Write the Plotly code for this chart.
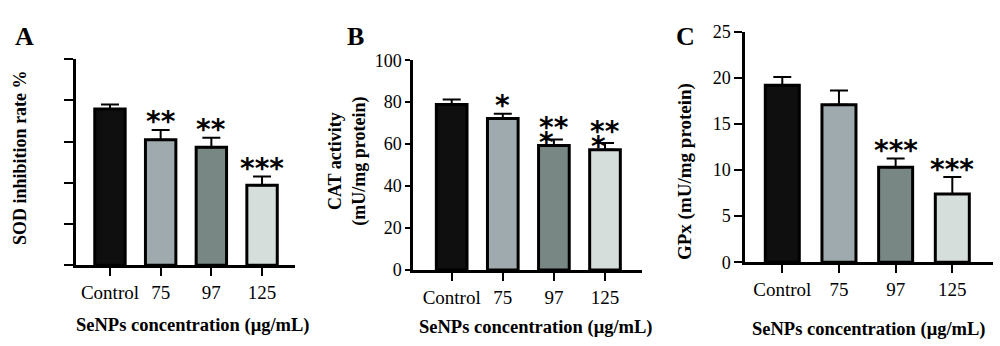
import plotly.graph_objects as go

categories = ["Control", "75", "97", "125"]
bar_colors = ["#0f0f0f", "#9eaaad", "#788784", "#d6dedc"]

sod_values = [75.8, 60.9, 57.2, 38.8]
sod_errors = [2.2, 4.7, 4.6, 4.3]
sod_stars = ["", "**", "**", "***"]

cat_values = [78.9, 72.2, 59.4, 57.3]
cat_errors = [2.4, 2.3, 2.8, 3.2]
cat_stars = ["", "*", "***", "***"]

gpx_values = [19.2, 17.1, 10.3, 7.4]
gpx_errors = [0.9, 1.55, 0.95, 1.85]
gpx_stars = ["", "", "***", "***"]

SERIF = "Liberation Serif"
STARFONT = "DejaVu Sans"
STARSIZE = 28

fig = go.Figure()

panels = [
    dict(vals=sod_values, errs=sod_errors, stars=sod_stars, xa="x", ya="y"),
    dict(vals=cat_values, errs=cat_errors, stars=cat_stars, xa="x2", ya="y2"),
    dict(vals=gpx_values, errs=gpx_errors, stars=gpx_stars, xa="x3", ya="y3"),
]

for p in panels:
    fig.add_trace(go.Bar(
        x=categories, y=p["vals"], xaxis=p["xa"], yaxis=p["ya"],
        width=0.6,
        marker=dict(color=bar_colors, line=dict(color="black", width=3)),
        error_y=dict(type="data", symmetric=False, array=p["errs"],
                     arrayminus=[0] * len(p["errs"]),
                     color="black", thickness=2, width=9),
        showlegend=False, hoverinfo="skip",
    ))

annotations = []
for p in panels:
    for i, (v, e, s) in enumerate(zip(p["vals"], p["errs"], p["stars"])):
        if not s:
            continue
        top = v + e
        star_font = dict(family=STARFONT, size=STARSIZE, color="black")
        if p["xa"] == "x2" and len(s) == 3:
            # "***" wrapped onto two lines in the narrow column
            annotations.append(dict(x=i, y=top, xref=p["xa"], yref=p["ya"], text="<b>**</b>",
                                    showarrow=False, yanchor="middle", yshift=12,
                                    font=star_font))
            annotations.append(dict(x=i, y=top, xref=p["xa"], yref=p["ya"], text="<b>*</b>",
                                    showarrow=False, yanchor="middle", yshift=-3, xshift=-7,
                                    font=star_font))
        else:
            annotations.append(dict(x=i, y=top, xref=p["xa"], yref=p["ya"], text=f"<b>{s}</b>",
                                    showarrow=False, yanchor="middle", yshift=8,
                                    font=star_font))

def paper_x(px):
    return px / 1000.0

def paper_y(py):
    return 1 - py / 346.0

# panel letters
for letter, px, py in [("A", 24, 28), ("B", 355, 28), ("C", 685, 28)]:
    annotations.append(dict(x=paper_x(px), y=paper_y(py), xref="paper", yref="paper",
                            text=f"<b>{letter}</b>", showarrow=False,
                            xanchor="center", yanchor="middle",
                            font=dict(family=SERIF, size=26, color="black")))

# x titles
for px, py in [(192, 335), (535, 337), (868, 339)]:
    annotations.append(dict(x=paper_x(px), y=paper_y(py), xref="paper", yref="paper",
                            text="<b>SeNPs concentration (μg/mL)</b>", showarrow=False,
                            xanchor="center", yanchor="middle",
                            font=dict(family=SERIF, size=18.5, color="black")))

# y titles
annotations.append(dict(x=paper_x(20), y=paper_y(157), xref="paper", yref="paper",
                        text="<b>SOD inhibition rate %</b>", showarrow=False, textangle=-90,
                        xanchor="center", yanchor="middle",
                        font=dict(family=SERIF, size=18, color="black")))
annotations.append(dict(x=paper_x(347), y=paper_y(161), xref="paper", yref="paper",
                        text="<b>CAT activity<br>(mU/mg protein)</b>", showarrow=False, textangle=-90,
                        xanchor="center", yanchor="middle",
                        font=dict(family=SERIF, size=18, color="black")))
annotations.append(dict(x=paper_x(685), y=paper_y(172), xref="paper", yref="paper",
                        text="<b>GPx (mU/mg protein)</b>", showarrow=False, textangle=-90,
                        xanchor="center", yanchor="middle",
                        font=dict(family=SERIF, size=19, color="black")))

xcommon = dict(type="category", showline=True, linecolor="black", linewidth=2.5,
               ticks="outside", ticklen=8, tickwidth=2, tickcolor="black",
               showgrid=False, zeroline=False,
               tickfont=dict(family=SERIF, size=19, color="black"))
ycommon = dict(showline=True, linecolor="black", linewidth=2.5,
               ticks="outside", tickwidth=2, tickcolor="black",
               showgrid=False, zeroline=False,
               tickfont=dict(family=SERIF, size=18, color="black"))

fig.update_layout(
    width=1000, height=346,
    margin=dict(l=0, r=0, t=0, b=0),
    paper_bgcolor="white", plot_bgcolor="white",
    bargap=0.4,
    xaxis=dict(xcommon, domain=[0.076, 0.295], range=[-0.67, 3.65], anchor="y"),
    yaxis=dict(ycommon, domain=[0.2168, 0.8497], range=[0, 100], dtick=20,
               ticklen=9, showticklabels=False, anchor="x"),
    xaxis2=dict(xcommon, domain=[0.413, 0.642], range=[-0.757, 3.724], anchor="y2"),
    yaxis2=dict(ycommon, domain=[0.2023, 0.8460], range=[0, 100], dtick=20,
                ticklen=5, anchor="x2"),
    xaxis3=dict(xcommon, domain=[0.745, 0.993], range=[-0.658, 3.718], anchor="y3"),
    yaxis3=dict(ycommon, domain=[0.2263, 0.9327], range=[0, 25], dtick=5,
                ticklen=8, anchor="x3"),
    annotations=annotations,
)

fig.write_html("out.html")
